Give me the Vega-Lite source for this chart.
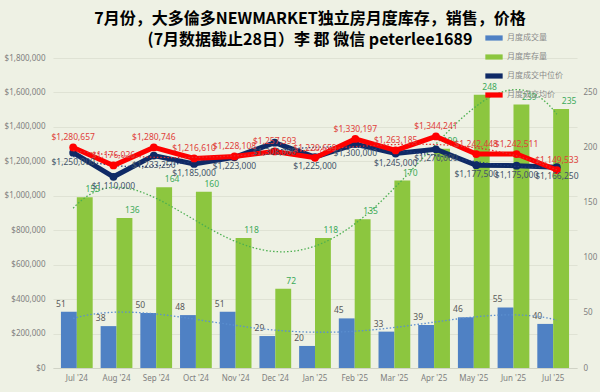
{
  "$schema": "https://vega.github.io/schema/vega-lite/v6.json",
  "width": 524,
  "height": 310,
  "autosize": {"type": "none"},
  "padding": {"left": 53, "top": 58, "right": 23, "bottom": 24},
  "background": "#eef1e4",
  "title": {
    "text": ["7月份，大多倫多NEWMARKET独立房月度库存，销售，价格", "(7月数据截止28日）李  郡 微信 peterlee1689"],
    "font": "Noto Sans CJK SC",
    "fontSize": 16,
    "fontWeight": "bold",
    "lineHeight": 21,
    "color": "#000000",
    "anchor": "middle",
    "dx": -5,
    "dy": 33,
    "offset": 14
  },
  "config": {
    "view": {"stroke": null},
    "scale": {"bandPaddingInner": 0.4, "bandPaddingOuter": 0.2},
    "axis": {"labelFont": "Noto Sans", "labelFontSize": 8, "labelColor": "#7f7f7f"},
    "text": {"font": "Noto Sans"}
  },
  "data": {
    "values": [
      {"m": "Jul '24", "i": 1, "月度成交量": 51, "月度库存量": 155, "月度成交中位价": 1250000, "月度成交均价": 1280657},
      {"m": "Aug '24", "i": 2, "月度成交量": 38, "月度库存量": 136, "月度成交中位价": 1110000, "月度成交均价": 1176026},
      {"m": "Sep '24", "i": 3, "月度成交量": 50, "月度库存量": 164, "月度成交中位价": 1233250, "月度成交均价": 1280746},
      {"m": "Oct '24", "i": 4, "月度成交量": 48, "月度库存量": 160, "月度成交中位价": 1185000, "月度成交均价": 1216610},
      {"m": "Nov '24", "i": 5, "月度成交量": 51, "月度库存量": 118, "月度成交中位价": 1223000, "月度成交均价": 1228108},
      {"m": "Dec '24", "i": 6, "月度成交量": 29, "月度库存量": 72, "月度成交中位价": 1308000, "月度成交均价": 1257593},
      {"m": "Jan '25", "i": 7, "月度成交量": 20, "月度库存量": 118, "月度成交中位价": 1225000, "月度成交均价": 1220659},
      {"m": "Feb '25", "i": 8, "月度成交量": 45, "月度库存量": 135, "月度成交中位价": 1300000, "月度成交均价": 1330197},
      {"m": "Mar '25", "i": 9, "月度成交量": 33, "月度库存量": 170, "月度成交中位价": 1245000, "月度成交均价": 1263185},
      {"m": "Apr '25", "i": 10, "月度成交量": 39, "月度库存量": 199, "月度成交中位价": 1270000, "月度成交均价": 1344241},
      {"m": "May '25", "i": 11, "月度成交量": 46, "月度库存量": 248, "月度成交中位价": 1177500, "月度成交均价": 1242448},
      {"m": "Jun '25", "i": 12, "月度成交量": 55, "月度库存量": 239, "月度成交中位价": 1175000, "月度成交均价": 1242511},
      {"m": "Jul '25", "i": 13, "月度成交量": 40, "月度库存量": 235, "月度成交中位价": 1166250, "月度成交均价": 1149533}
    ]
  },
  "resolve": {"scale": {"x": "independent", "y": "independent", "xOffset": "independent"}},
  "layer": [
    {
      "transform": [{"fold": ["月度成交量", "月度库存量"], "as": ["series", "v"]}],
      "mark": {"type": "bar"},
      "encoding": {
        "x": {"field": "m", "type": "ordinal", "sort": null,
              "axis": {"title": null, "labelAngle": 0, "ticks": false, "domainColor": "#d0d3c6", "labelPadding": 6, "grid": false}},
        "xOffset": {"field": "series", "type": "nominal", "scale": {"domain": ["月度成交量", "月度库存量"], "paddingInner": 0, "paddingOuter": 0}},
        "y": {"field": "v", "type": "quantitative", "scale": {"domain": [0, 281.25], "nice": false},
              "axis": {"orient": "right", "values": [0, 50, 100, 150, 200, 250], "title": null, "grid": false, "domain": false, "ticks": false, "labelPadding": 6}},
        "color": {"field": "series", "type": "nominal",
                  "scale": {"domain": ["月度成交量", "月度库存量", "月度成交中位价", "月度成交均价"], "range": ["#4f81c4", "#8cc63f", "#0f2a66", "#ff0000"]},
                  "legend": {"title": null, "orient": "none", "legendX": 432, "legendY": -29, "labelFont": "Noto Sans CJK SC", "labelFontSize": 8, "labelColor": "#8a8a8a", "symbolType": "M-1,-0.3H1V0.3H-1Z", "symbolSize": 300, "rowPadding": 6, "symbolStrokeWidth": 0}}
      }
    },
    {
      "transform": [{"fold": ["月度成交量", "月度库存量"], "as": ["series", "v"]}],
      "mark": {"type": "text", "baseline": "bottom", "dy": -3, "fontSize": 8.5},
      "encoding": {
        "x": {"field": "m", "type": "ordinal", "sort": null, "axis": null},
        "xOffset": {"field": "series", "type": "nominal", "scale": {"domain": ["月度成交量", "月度库存量"], "paddingInner": 0, "paddingOuter": 0}},
        "y": {"field": "v", "type": "quantitative", "scale": {"domain": [0, 281.25], "nice": false}, "axis": null},
        "text": {"field": "v", "type": "quantitative"},
        "color": {"condition": {"test": "datum.series === '月度成交量'", "value": "#595959"}, "value": "#3daa5a"}
      }
    },
    {
      "transform": [{"regression": "月度成交量", "on": "i", "method": "poly", "order": 4}],
      "mark": {"type": "line", "strokeDash": [1.5, 2], "strokeWidth": 1.3, "color": "#5b8fcf"},
      "encoding": {
        "x": {"field": "i", "type": "quantitative", "scale": {"domain": [0.5, 13.5], "nice": false, "zero": false}, "axis": null},
        "y": {"field": "月度成交量", "type": "quantitative", "scale": {"domain": [0, 281.25], "nice": false}, "axis": null}
      }
    },
    {
      "transform": [{"regression": "月度库存量", "on": "i", "method": "poly", "order": 4}],
      "mark": {"type": "line", "strokeDash": [1.5, 2], "strokeWidth": 1.3, "color": "#4caf50"},
      "encoding": {
        "x": {"field": "i", "type": "quantitative", "scale": {"domain": [0.5, 13.5], "nice": false, "zero": false}, "axis": null},
        "y": {"field": "月度库存量", "type": "quantitative", "scale": {"domain": [0, 281.25], "nice": false}, "axis": null}
      }
    },
    {
      "mark": {"type": "line", "strokeWidth": 5, "point": {"filled": true, "size": 60}},
      "encoding": {
        "x": {"field": "m", "type": "ordinal", "sort": null, "axis": null},
        "y": {"field": "月度成交中位价", "type": "quantitative", "scale": {"domain": [0, 1800000], "nice": false},
              "axis": {"orient": "left", "title": null, "format": "$,.0f", "values": [0, 200000, 400000, 600000, 800000, 1000000, 1200000, 1400000, 1600000, 1800000], "grid": true, "gridColor": "#d8dbcd", "gridWidth": 0.7, "domain": false, "ticks": false, "labelPadding": 8}},
        "color": {"datum": "月度成交中位价"}
      }
    },
    {
      "transform": [{"regression": "月度成交中位价", "on": "i", "method": "poly", "order": 4}],
      "mark": {"type": "line", "strokeDash": [1.5, 2], "strokeWidth": 1.2, "color": "#1f3a7a"},
      "encoding": {
        "x": {"field": "i", "type": "quantitative", "scale": {"domain": [0.5, 13.5], "nice": false, "zero": false}, "axis": null},
        "y": {"field": "月度成交中位价", "type": "quantitative", "scale": {"domain": [0, 1800000], "nice": false}, "axis": null}
      }
    },
    {
      "mark": {"type": "line", "strokeWidth": 5, "point": {"filled": true, "size": 60}},
      "encoding": {
        "x": {"field": "m", "type": "ordinal", "sort": null, "axis": null},
        "y": {"field": "月度成交均价", "type": "quantitative", "scale": {"domain": [0, 1800000], "nice": false}, "axis": null},
        "color": {"datum": "月度成交均价"}
      }
    },
    {
      "transform": [{"regression": "月度成交均价", "on": "i", "method": "poly", "order": 4}],
      "mark": {"type": "line", "strokeDash": [1.5, 2], "strokeWidth": 1.2, "color": "#e03030"},
      "encoding": {
        "x": {"field": "i", "type": "quantitative", "scale": {"domain": [0.5, 13.5], "nice": false, "zero": false}, "axis": null},
        "y": {"field": "月度成交均价", "type": "quantitative", "scale": {"domain": [0, 1800000], "nice": false}, "axis": null}
      }
    },
    {
      "mark": {"type": "text", "baseline": "top", "dy": 5, "fontSize": 8.5, "color": "#44546a"},
      "encoding": {
        "x": {"field": "m", "type": "ordinal", "sort": null, "axis": null},
        "y": {"field": "月度成交中位价", "type": "quantitative", "scale": {"domain": [0, 1800000], "nice": false}, "axis": null},
        "text": {"field": "月度成交中位价", "type": "quantitative", "format": "$,.0f"}
      }
    },
    {
      "mark": {"type": "text", "baseline": "bottom", "dy": -5, "fontSize": 8.5, "color": "#e0403a"},
      "encoding": {
        "x": {"field": "m", "type": "ordinal", "sort": null, "axis": null},
        "y": {"field": "月度成交均价", "type": "quantitative", "scale": {"domain": [0, 1800000], "nice": false}, "axis": null},
        "text": {"field": "月度成交均价", "type": "quantitative", "format": "$,.0f"}
      }
    }
  ]
}
